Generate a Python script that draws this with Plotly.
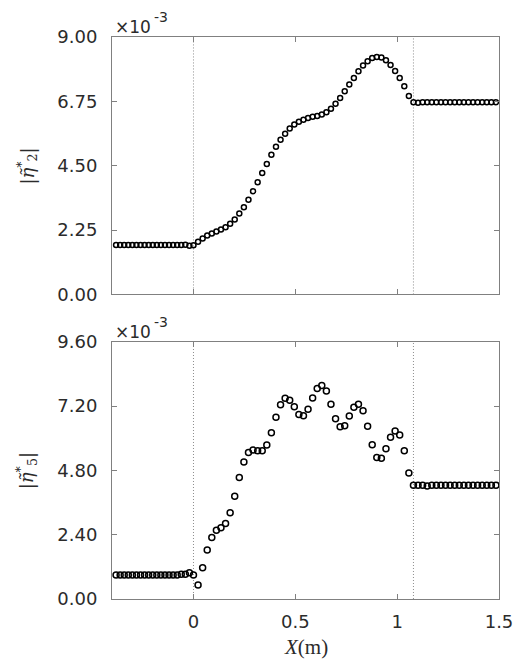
import plotly.graph_objects as go

# ---- sample positions (m) ----
x_left = [-0.38, -0.36, -0.34, -0.32, -0.30, -0.28, -0.26, -0.24, -0.22, -0.20,
          -0.18, -0.16, -0.14, -0.12, -0.10, -0.08, -0.06, -0.04, -0.02]
x_mid = [0.0, 0.0225, 0.045, 0.0675, 0.09, 0.1125, 0.135, 0.1575, 0.18, 0.2025,
         0.225, 0.2475, 0.27, 0.2925, 0.315, 0.3375, 0.36, 0.3825, 0.405, 0.4275,
         0.45, 0.4725, 0.495, 0.5175, 0.54, 0.5625, 0.585, 0.6075, 0.63, 0.6525,
         0.675, 0.6975, 0.72, 0.7425, 0.765, 0.7875, 0.81, 0.8325, 0.855, 0.8775,
         0.90, 0.9225, 0.945, 0.9675, 0.99, 1.0125, 1.035, 1.0575, 1.08]
x_right = [1.1025, 1.125, 1.1475, 1.17, 1.1925, 1.215, 1.2375, 1.26, 1.2825,
           1.305, 1.3275, 1.35, 1.3725, 1.395, 1.4175, 1.44, 1.4625, 1.485]

# ---- |eta2| values (x 1e-3) ----
eta2_left = [1.73, 1.73, 1.73, 1.73, 1.73, 1.73, 1.73, 1.73, 1.73, 1.73,
             1.73, 1.73, 1.73, 1.73, 1.73, 1.73, 1.73, 1.74, 1.70]
eta2_mid = [1.72, 1.84, 1.96, 2.06, 2.13, 2.20, 2.27, 2.35, 2.47, 2.62,
            2.83, 3.05, 3.31, 3.61, 3.92, 4.25, 4.56, 4.88, 5.16, 5.41,
            5.62, 5.80, 5.94, 6.04, 6.11, 6.17, 6.21, 6.24, 6.29, 6.37,
            6.49, 6.67, 6.87, 7.10, 7.34, 7.57, 7.80, 8.00, 8.15, 8.27,
            8.30, 8.28, 8.19, 8.02, 7.81, 7.57, 7.28, 6.94, 6.72]
eta2_right = [6.70, 6.72, 6.72, 6.72, 6.72, 6.72, 6.72, 6.72, 6.72,
              6.72, 6.72, 6.72, 6.72, 6.72, 6.72, 6.72, 6.72, 6.72]

# ---- |eta5| values (x 1e-3) ----
eta5_left = [0.90, 0.90, 0.90, 0.90, 0.90, 0.90, 0.90, 0.90, 0.90, 0.90,
             0.90, 0.90, 0.90, 0.90, 0.90, 0.90, 0.92, 0.92, 0.98]
eta5_mid = [0.90, 0.52, 1.17, 1.83, 2.30, 2.57, 2.66, 2.82, 3.22, 3.84,
            4.54, 5.11, 5.47, 5.56, 5.53, 5.53, 5.75, 6.21, 6.78, 7.25,
            7.49, 7.42, 7.18, 6.89, 6.84, 7.08, 7.50, 7.86, 7.97, 7.76,
            7.27, 6.73, 6.43, 6.47, 6.83, 7.16, 7.27, 7.03, 6.45, 5.76,
            5.28, 5.25, 5.61, 6.04, 6.27, 6.12, 5.53, 4.70, 4.25]
eta5_right = [4.25, 4.25, 4.22, 4.25, 4.25, 4.25, 4.25, 4.25, 4.25,
              4.25, 4.25, 4.25, 4.25, 4.25, 4.25, 4.25, 4.25, 4.25]

boundaries = [0.0, 1.08]
x_ticks = [0, 0.5, 1, 1.5]
x_ticktext = ["0", "0.5", "1", "1.5"]
y2_ticks = [0, 2.25, 4.5, 6.75, 9.0]
y5_ticks = [0, 2.4, 4.8, 7.2, 9.6]

x_all = x_left + x_mid + x_right
eta2 = eta2_left + eta2_mid + eta2_right
eta5 = eta5_left + eta5_mid + eta5_right

fig = go.Figure()
fig.add_trace(go.Scatter(x=x_all, y=eta2, mode="markers", xaxis="x", yaxis="y",
                         marker=dict(symbol="circle-open", size=5, color="black",
                                     line=dict(width=1.5, color="black")),
                         showlegend=False))
fig.add_trace(go.Scatter(x=x_all, y=eta5, mode="markers", xaxis="x2", yaxis="y2",
                         marker=dict(symbol="circle-open", size=6, color="black",
                                     line=dict(width=1.5, color="black")),
                         showlegend=False))

axcol = "#808080"
txtcol = "#2b2b2b"
sans = "DejaVu Sans, Liberation Sans, Arial, sans-serif"
tickfont = dict(family=sans, size=18, color=txtcol)

common_x = dict(range=[-0.4, 1.5], tickvals=x_ticks, ticktext=x_ticktext,
                ticks="inside", ticklen=5, tickcolor=axcol, showline=True,
                linecolor=axcol, linewidth=1, mirror="ticks", showgrid=False,
                zeroline=False, tickfont=tickfont, ticklabelstandoff=6)
common_y = dict(ticks="inside", ticklen=5, tickcolor=axcol, showline=True,
                linecolor=axcol, linewidth=1, mirror="ticks", showgrid=False,
                zeroline=False, tickfont=tickfont, tickformat=".2f",
                ticklabelstandoff=10)

top_dom = [0.5419, 1.0]
bot_dom = [0.0, 0.4576]

fig.update_layout(
    width=529, height=665,
    margin=dict(l=112, r=30, t=37, b=66),
    paper_bgcolor="white", plot_bgcolor="white",
    xaxis=dict(common_x, domain=[0, 1], anchor="y", showticklabels=False),
    yaxis=dict(common_y, domain=top_dom, range=[0, 9.0], tickvals=y2_ticks, anchor="x"),
    xaxis2=dict(common_x, domain=[0, 1], anchor="y2"),
    yaxis2=dict(common_y, domain=bot_dom, range=[0, 9.6], tickvals=y5_ticks, anchor="x2"),
)

# dotted boundary lines
for xb in boundaries:
    fig.add_shape(type="line", xref="x", yref="y", x0=xb, x1=xb, y0=0, y1=9.0,
                  line=dict(color="#8c8c8c", width=1, dash="1px,2px"), layer="below")
    fig.add_shape(type="line", xref="x2", yref="y2", x0=xb, x1=xb, y0=0, y1=9.6,
                  line=dict(color="#8c8c8c", width=1, dash="1px,2px"), layer="below")

for ydom in (top_dom, bot_dom):
    fig.add_annotation(text="×10", xref="paper", yref="paper",
                       x=0.0, y=ydom[1], xanchor="left", yanchor="middle",
                       xshift=1, yshift=10, showarrow=False,
                       font=dict(family=sans, size=17, color=txtcol))
    fig.add_annotation(text="-3", xref="paper", yref="paper",
                       x=0.0, y=ydom[1], xanchor="left", yanchor="middle",
                       xshift=40, yshift=20, showarrow=False,
                       font=dict(family=sans, size=14, color=txtcol))

labfont = dict(family="DejaVu Serif, Liberation Serif, serif", size=18, color=txtcol)
fig.add_annotation(text="|<i>η̃</i><sup>*</sup><sub>2</sub>|", xref="paper", yref="paper",
                   x=-0.22, y=(top_dom[0] + top_dom[1]) / 2, xanchor="center",
                   yanchor="middle", textangle=-90, showarrow=False, font=labfont)
fig.add_annotation(text="|<i>η̃</i><sup>*</sup><sub>5</sub>|", xref="paper", yref="paper",
                   x=-0.22, y=(bot_dom[0] + bot_dom[1]) / 2, xanchor="center",
                   yanchor="middle", textangle=-90, showarrow=False, font=labfont)
fig.add_annotation(text="<i>X</i>(m)", xref="paper", yref="paper",
                   x=0.5, y=-0.085, xanchor="center", yanchor="middle",
                   showarrow=False,
                   font=dict(family="Liberation Serif, DejaVu Serif, serif", size=21, color=txtcol))

fig.write_html("out.html", config={"displayModeBar": False},
               post_script="document.body.style.margin='0';document.documentElement.style.overflow='hidden';")
